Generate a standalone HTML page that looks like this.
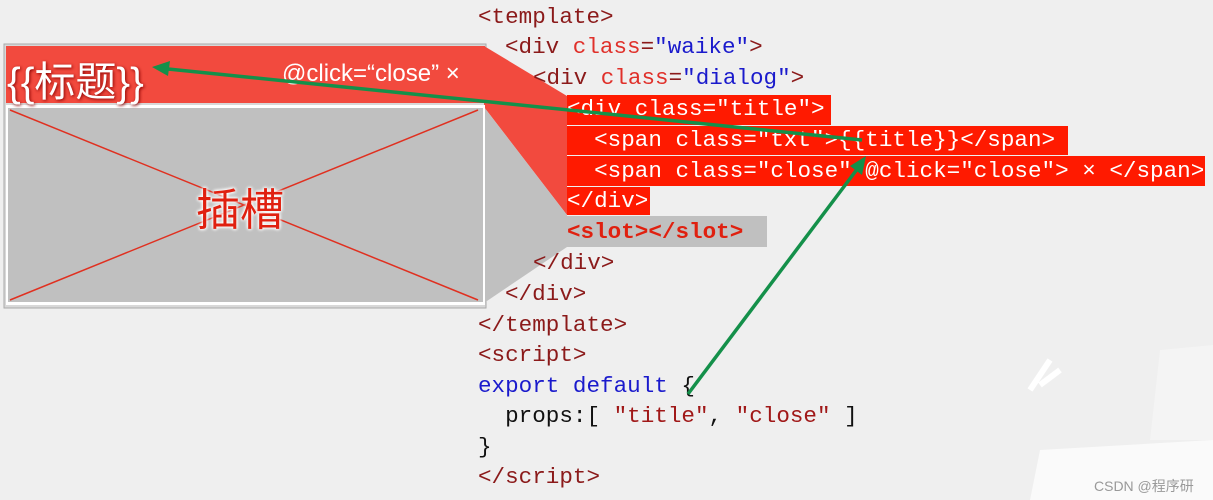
<!DOCTYPE html>
<html><head><meta charset="utf-8"><style>
body{margin:0;width:1213px;height:500px;background:#efefef;position:relative;overflow:hidden;font-family:"Liberation Sans","Noto Sans CJK SC",sans-serif}
.c{position:absolute;font-family:"Liberation Mono",monospace;font-size:22.6px;line-height:30px;white-space:pre;color:#8b1a1a}
.a{color:#e0302a}.v{color:#1a1acc}.w{color:#fff}.k{color:#1a1acc}.b{color:#111}
.hl{position:absolute;background:#ff1a00}
</style></head><body>
<svg width="1213" height="500" style="position:absolute;left:0;top:0">
<path d="M1030 390 L1050 360 M1040 385 L1060 370" stroke="#fff" stroke-width="6" fill="none"/>
<path d="M1040 450 L1213 440 L1213 500 L1030 500 Z" fill="#fff" opacity="0.7"/>
<path d="M1150 440 L1160 350 L1213 345 L1213 440 Z" fill="#fafafa" opacity="0.5"/>
<rect x="4" y="44" width="482" height="264" fill="#d8d8d8" stroke="#aaa"/>
<polygon points="484,46 567,96 567,215 484,107" fill="#f24a3e"/>
<polygon points="484,107 567,215 567,247 484,303" fill="#c0c0c0"/>
<rect x="6" y="46" width="479" height="57" fill="#f24a3e"/>
<rect x="6" y="105" width="479" height="200" fill="#fff"/>
<rect x="8" y="108" width="475" height="194" fill="#c0c0c0"/>
<line x1="10" y1="110" x2="478" y2="300" stroke="#e03020" stroke-width="1.5"/>
<line x1="478" y1="110" x2="10" y2="300" stroke="#e03020" stroke-width="1.5"/>
</svg>
<div style="position:absolute;left:7px;top:48px;font-size:41px;color:#fff;text-shadow:1px 1px 3px #800">{{标题}}</div>
<div style="position:absolute;left:282px;top:60px;font-size:24px;color:#fff">@click=“close” ×</div>
<div style="position:absolute;left:196px;top:174px;font-size:44px;color:#e02010;text-shadow:0 0 3px #fff,0 0 3px #fff,0 0 4px #fff">插槽</div>

<div class="hl" style="left:567px;top:95px;width:264px;height:30px"></div>
<div class="hl" style="left:567px;top:126px;width:501px;height:29px"></div>
<div class="hl" style="left:567px;top:156px;width:638px;height:30px"></div>
<div class="hl" style="left:567px;top:187px;width:83px;height:28px"></div>
<div style="position:absolute;left:567px;top:216px;width:200px;height:31px;background:#c0c0c0"></div>

<div class="c" style="left:478px;top:2px">&lt;template&gt;</div>
<div class="c" style="left:505px;top:32px">&lt;div <span class="a">class</span>=<span class="v">"waike"</span>&gt;</div>
<div class="c" style="left:533px;top:63px">&lt;div <span class="a">class</span>=<span class="v">"dialog"</span>&gt;</div>
<div class="c w" style="left:567px;top:94px">&lt;div class="title"&gt;</div>
<div class="c w" style="left:567px;top:125px">  &lt;span class="txt"&gt;{{title}}&lt;/span&gt;</div>
<div class="c w" style="left:567px;top:156px">  &lt;span class="close" @click="close"&gt; × &lt;/span&gt;</div>
<div class="c w" style="left:567px;top:186px">&lt;/div&gt;</div>
<div class="c" style="left:567px;top:217px;color:#e0200f;font-weight:bold">&lt;slot&gt;&lt;/slot&gt;</div>
<div class="c" style="left:533px;top:248px">&lt;/div&gt;</div>
<div class="c" style="left:505px;top:279px">&lt;/div&gt;</div>
<div class="c" style="left:478px;top:310px">&lt;/template&gt;</div>
<div class="c" style="left:478px;top:340px">&lt;script&gt;</div>
<div class="c k" style="left:478px;top:371px">export default <span class="b">{</span></div>
<div class="c b" style="left:478px;top:401px">  props:[ <span style="color:#a01818">"title"</span>, <span style="color:#a01818">"close"</span> ]</div>
<div class="c b" style="left:478px;top:432px">}</div>
<div class="c" style="left:478px;top:462px">&lt;/script&gt;</div>

<svg width="1213" height="500" style="position:absolute;left:0;top:0">
<line x1="862" y1="140" x2="168" y2="69" stroke="#14904a" stroke-width="3.5"/>
<polygon points="152,67 170,61 168,76" fill="#14904a"/>
<line x1="688" y1="394" x2="858" y2="168" stroke="#14904a" stroke-width="3.5"/>
<polygon points="866,156 862,175 850,166" fill="#14904a"/>
</svg>
<div style="position:absolute;left:1094px;top:476px;font-size:14px;color:#999">CSDN @程序研</div>
</body></html>
